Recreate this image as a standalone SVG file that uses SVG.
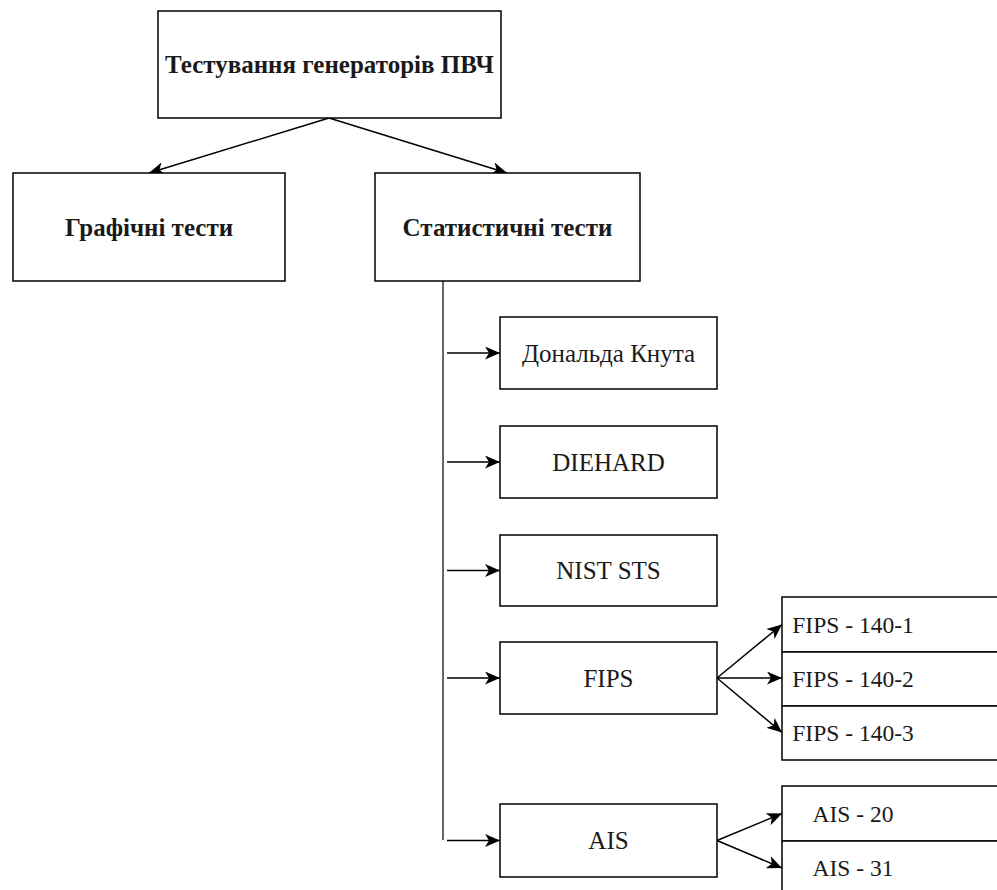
<svg xmlns="http://www.w3.org/2000/svg" width="997" height="890" viewBox="0 0 997 890">
<style>
.box{fill:#fff;stroke:#000;stroke-width:1.5}
.t{font-family:"Liberation Serif",serif;font-size:25px;fill:#1a1a1a;text-anchor:middle;dominant-baseline:central}
.s{font-size:23.5px}
.b{font-weight:bold}
.c{stroke:#000;stroke-width:1.5;fill:none}
</style>
<defs>
<marker id="ah" viewBox="0 0 15 13" refX="15" refY="6.5" markerWidth="15" markerHeight="13" markerUnits="userSpaceOnUse" orient="auto">
<path d="M0,0 L15,6.5 L0,13 L4,6.5 z" fill="#000"/>
</marker>
</defs>
<rect width="997" height="890" fill="#fff"/>
<g id="connectors">
<line class="c" x1="329" y1="118" x2="149" y2="173" marker-end="url(#ah)"/>
<line class="c" x1="329" y1="118" x2="507" y2="173" marker-end="url(#ah)"/>
<line x1="443" y1="281" x2="443" y2="840" stroke="#666" stroke-width="2"/>
<line class="c" x1="447" y1="353" x2="500" y2="353" marker-end="url(#ah)"/>
<line class="c" x1="447" y1="462" x2="500" y2="462" marker-end="url(#ah)"/>
<line class="c" x1="447" y1="570.5" x2="500" y2="570.5" marker-end="url(#ah)"/>
<line class="c" x1="447" y1="678" x2="500" y2="678" marker-end="url(#ah)"/>
<line class="c" x1="447" y1="840.5" x2="500" y2="840.5" marker-end="url(#ah)"/>
<line class="c" x1="717" y1="678" x2="782" y2="624.5" marker-end="url(#ah)"/>
<line class="c" x1="717" y1="678" x2="782" y2="678" marker-end="url(#ah)"/>
<line class="c" x1="717" y1="678" x2="782" y2="732.5" marker-end="url(#ah)"/>
<line class="c" x1="717" y1="840.5" x2="782" y2="813.5" marker-end="url(#ah)"/>
<line class="c" x1="717" y1="840.5" x2="782" y2="868" marker-end="url(#ah)"/>
</g>
<g id="root"><rect class="box" x="158" y="11" width="343" height="107"/><text class="t b" x="329.5" y="64.5">Тестування генераторів ПВЧ</text></g>
<g id="graphic"><rect class="box" x="13" y="173" width="272" height="108"/><text class="t b" x="149" y="227">Графічні тести</text></g>
<g id="statistic"><rect class="box" x="375" y="173" width="265" height="108"/><text class="t b" x="507.5" y="227">Статистичні тести</text></g>
<g id="knuth"><rect class="box" x="500" y="317" width="217" height="72"/><text class="t" x="608.5" y="353">Дональда Кнута</text></g>
<g id="diehard"><rect class="box" x="500" y="426" width="217" height="72"/><text class="t" x="608.5" y="462">DIEHARD</text></g>
<g id="nist"><rect class="box" x="500" y="535" width="217" height="71"/><text class="t" x="608.5" y="570.5">NIST STS</text></g>
<g id="fips"><rect class="box" x="500" y="642" width="217" height="72"/><text class="t" x="608.5" y="678">FIPS</text></g>
<g id="ais"><rect class="box" x="500" y="804" width="217" height="73"/><text class="t" x="608.5" y="840.5">AIS</text></g>
<g id="fips1"><rect class="box" x="782" y="597" width="222" height="55"/><text class="t s" x="853" y="624.5">FIPS - 140-1</text></g>
<g id="fips2"><rect class="box" x="782" y="652" width="222" height="54"/><text class="t s" x="853" y="679">FIPS - 140-2</text></g>
<g id="fips3"><rect class="box" x="782" y="706" width="222" height="54"/><text class="t s" x="853" y="733">FIPS - 140-3</text></g>
<g id="ais20"><rect class="box" x="782" y="786" width="222" height="55"/><text class="t s" x="853" y="813.5">AIS - 20</text></g>
<g id="ais31"><rect class="box" x="782" y="841" width="222" height="55"/><text class="t s" x="853" y="868">AIS - 31</text></g>
</svg>
